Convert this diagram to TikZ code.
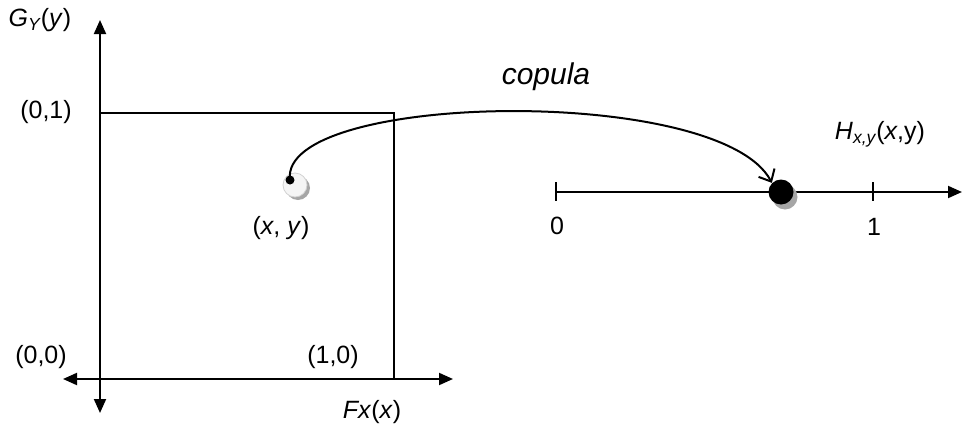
\documentclass[tikz,border=0pt]{standalone}
\usepackage{fontspec}
\setmainfont{Liberation Sans}
\usetikzlibrary{arrows.meta, positioning}

\begin{document}
\begin{tikzpicture}[
    x=0.5pt, y=-0.5pt,
    axis/.style={line width=1pt, {Triangle[length=7pt,width=6pt]}-{Triangle[length=7pt,width=6pt]}},
    oneway/.style={line width=1pt, -{Triangle[length=7pt,width=6pt]}},
    edge/.style={line width=0.8pt},
    lbl/.style={font=\fontsize{12.5}{15}\selectfont, inner sep=1pt},
    mapping/.style={line width=1pt, -{Straight Barb[length=5pt,width=9pt]}}
]
\useasboundingbox (0,0) rectangle (966,429);

% left plot
\coordinate (ytop) at (100,20);
\coordinate (ybot) at (100,413);
\coordinate (xleft) at (63,379);
\coordinate (xright) at (453,379);
\coordinate (c01) at (100,113);
\coordinate (c11) at (394,113);
\coordinate (c10) at (394,379);

\draw[axis] (ybot) -- (ytop);
\draw[axis] (xleft) -- (xright);
\draw[edge] (c01) -- (c11) -- (c10);

\node[lbl] (gy) at (40,20) {\textit{G\textsubscript{Y}}(\textit{y})};
\node[lbl] (l01) at (46,112) {(0,1)};
\node[lbl] (l00) at (41,357) {(0,0)};
\node[lbl] (l10) at (333,357) {(1,0)};
\node[lbl] (fx) at (372,412) {\textit{Fx}(\textit{x})};

% point (x,y)
\fill[gray!70] (298,188) circle (12);
\filldraw[fill=gray!8, draw=gray!35] (295,185) circle (12);
\node[circle, fill=black, inner sep=0pt, minimum size=4.5pt] (pxy) at (290,180) {};
\node[lbl] (lxy) at (281,228) {(\textit{x}, \textit{y})};

% right axis
\coordinate (h0) at (556,192);
\coordinate (hend) at (962,192);
\draw[oneway] (h0) -- (hend);
\draw[edge] (556,182) -- (556,201);
\draw[edge] (873,182) -- (873,201);
\node[lbl] (l0) at (557,226) {0};
\node[lbl] (l1) at (874,227) {1};
\node[lbl] (hxy) at (880,134) {\textit{H\textsubscript{x,y}}(\textit{x},y)};

% image point
\fill[gray!70] (785,197) circle (12.5);
\node[circle, fill=black, inner sep=0pt, minimum size=12.5pt] (hpt) at (781,192) {};

% copula map
\draw[mapping] (pxy.center) .. controls (278,92) and (720,84) .. (hpt.north west);
\node[font=\fontsize{15}{18}\selectfont\itshape] (cop) at (546,77) {copula};

\end{tikzpicture}
\end{document}
